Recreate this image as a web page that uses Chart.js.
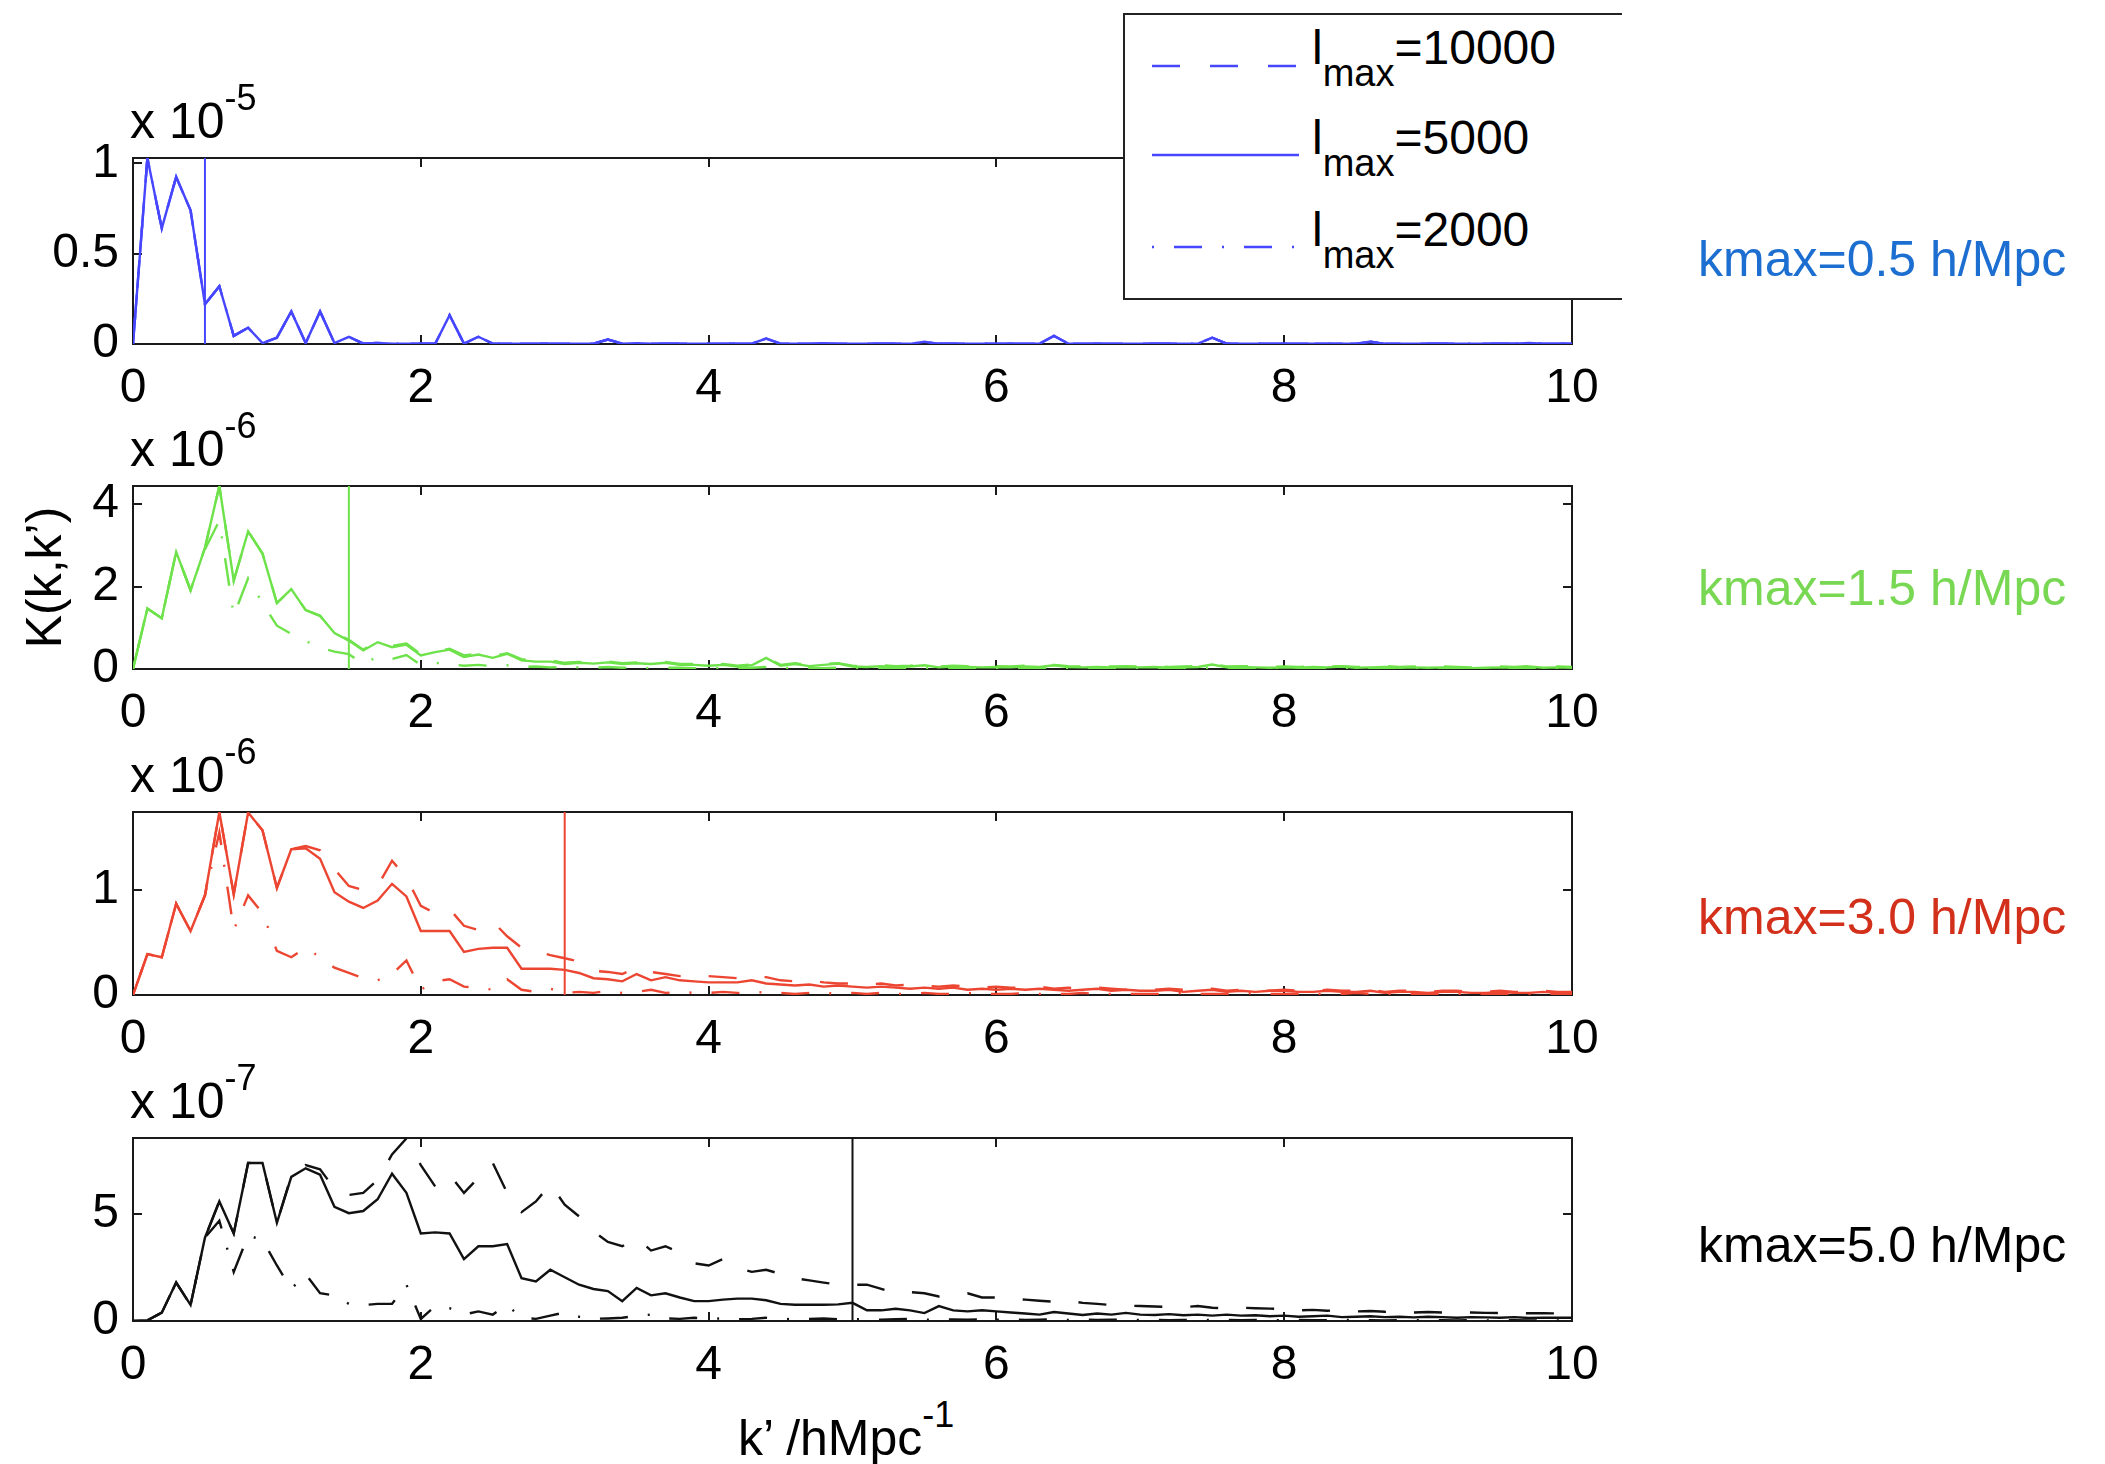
<!DOCTYPE html>
<html>
<head>
<meta charset="utf-8">
<script src="https://cdn.jsdelivr.net/npm/chart.js@4.4.1/dist/chart.umd.min.js"></script>
<style>
  body { margin: 0; background: #fff; width: 2105px; height: 1464px; position: relative; overflow: hidden;
         font-family: "Liberation Sans", Arial, Helvetica, sans-serif; color: #000; }
  canvas { position: absolute; left: 0; }
  .txt { position: absolute; white-space: nowrap; line-height: 50px; font-size: 50px; }
  .txt sup { font-size: 36px; position: relative; top: -28px; vertical-align: baseline; }
  .kmax { position: absolute; left: 1698px; font-size: 50px; line-height: 50px; white-space: nowrap; }
  #legend { position: absolute; left: 1123px; top: 13px; width: 497px; height: 283px; background: #fff;
            border-left: 2px solid #222; border-top: 2px solid #222; border-bottom: 2px solid #222; z-index: 5; }
  #legend svg { position: absolute; left: 0; top: 0; }
  .lrow { position: absolute; left: 187px; font-size: 48px; line-height: 48px; white-space: nowrap; }
  .lrow sub { font-size: 38px; position: relative; top: 22px; vertical-align: baseline; }
</style>
</head>
<body>

<div id="legend">
  <svg width="497" height="283">
    <line x1="27" y1="51" x2="174" y2="51" stroke="#4646ff" stroke-width="2.5" stroke-dasharray="28 30"/>
    <line x1="27" y1="140" x2="174" y2="140" stroke="#4646ff" stroke-width="2.5"/>
    <line x1="27" y1="232" x2="174" y2="232" stroke="#4646ff" stroke-width="2.5" stroke-dasharray="2 20 28 20"/>
  </svg>
  <div class="lrow" style="top:9px">l<sub>max</sub>=10000</div>
  <div class="lrow" style="top:99px">l<sub>max</sub>=5000</div>
  <div class="lrow" style="top:191px">l<sub>max</sub>=2000</div>
</div>

<div class="txt" style="left:738px; top:1413px;">k’ /hMpc<sup>-1</sup></div>

<script>
// k' grid (h/Mpc)
const kGrid = [
  0, 0.1, 0.2, 0.3, 0.4, 0.5, 0.6, 0.7, 0.8, 0.9,
  1, 1.1, 1.2, 1.3, 1.4, 1.5, 1.6, 1.7, 1.8, 1.9,
  2, 2.1, 2.2, 2.3, 2.4, 2.5, 2.6, 2.7, 2.8, 2.9,
  3, 3.1, 3.2, 3.3, 3.4, 3.5, 3.6, 3.7, 3.8, 3.9,
  4, 4.1, 4.2, 4.3, 4.4, 4.5, 4.6, 4.7, 4.8, 4.9,
  5, 5.1, 5.2, 5.3, 5.4, 5.5, 5.6, 5.7, 5.8, 5.9,
  6, 6.1, 6.2, 6.3, 6.4, 6.5, 6.6, 6.7, 6.8, 6.9,
  7, 7.1, 7.2, 7.3, 7.4, 7.5, 7.6, 7.7, 7.8, 7.9,
  8, 8.1, 8.2, 8.3, 8.4, 8.5, 8.6, 8.7, 8.8, 8.9,
  9, 9.1, 9.2, 9.3, 9.4, 9.5, 9.6, 9.7, 9.8, 9.9,
  10
];

const kmaxValues = [0.5, 1.5, 3.0, 5.0];
const kmaxLabels = ['kmax=0.5 h/Mpc', 'kmax=1.5 h/Mpc', 'kmax=3.0 h/Mpc', 'kmax=5.0 h/Mpc'];
const exponents = ['-5', '-6', '-6', '-7'];
const yMaxValues = [1.03, 4.44, 1.745, 8.57];
const yTickValues = [[0, 0.5, 1], [0, 2, 4], [0, 1], [0, 5]];
const xTickValues = [0, 2, 4, 6, 8, 10];
const seriesNames = ['lmax=10000', 'lmax=5000', 'lmax=2000'];

// kmax = 0.5 (x 1e-5) -- all three lmax curves coincide
const p1Solid = [
  0, 1.03, 0.64, 0.925, 0.74, 0.22, 0.32, 0.045, 0.09, 0.005,
  0.035, 0.18, 0.005, 0.18, 0.005, 0.04, 0.002, 0.006, 0.001, 0.001,
  0.001, 0.001, 0.16, 0.002, 0.04, 0.002, 0.001, 0.002, 0.001, 0.001,
  0.001, 0.001, 0.002, 0.025, 0.002, 0.004, 0.001, 0.001, 0.002, 0.001,
  0.001, 0.001, 0.001, 0.002, 0.03, 0.002, 0.001, 0.001, 0.003, 0.001,
  0.001, 0.001, 0.001, 0.002, 0.001, 0.012, 0.001, 0.001, 0.002, 0.001,
  0.001, 0.001, 0.001, 0.002, 0.045, 0.002, 0.001, 0.001, 0.001, 0.001,
  0.001, 0.002, 0.001, 0.001, 0.002, 0.035, 0.002, 0.001, 0.001, 0.001,
  0.001, 0.001, 0.001, 0.002, 0.001, 0.002, 0.012, 0.001, 0.001, 0.001,
  0.001, 0.001, 0.001, 0.002, 0.001, 0.001, 0.002, 0.006, 0.001, 0.001,
  0.001
];

// kmax = 1.5 (x 1e-6)
const p2Dashed = [
  0, 1.47, 1.23, 2.84, 1.91, 2.94, 4.44, 2.14, 3.34, 2.8,
  1.6, 1.94, 1.43, 1.29, 0.87, 0.71, 0.47, 0.67, 0.56, 0.62,
  0.36, 0.43, 0.49, 0.33, 0.37, 0.31, 0.38, 0.24, 0.2, 0.21,
  0.15, 0.17, 0.15, 0.18, 0.14, 0.16, 0.14, 0.17, 0.12, 0.12,
  0.1, 0.12, 0.08, 0.11, 0.28, 0.1, 0.14, 0.09, 0.12, 0.14,
  0.08, 0.07, 0.09, 0.07, 0.08, 0.1, 0.06, 0.08, 0.07, 0.06,
  0.07, 0.06, 0.08, 0.07, 0.1, 0.07, 0.06, 0.07, 0.06, 0.07,
  0.06, 0.07, 0.05, 0.06, 0.07, 0.12, 0.06, 0.07, 0.06, 0.05,
  0.06, 0.05, 0.07, 0.06, 0.07, 0.05, 0.06, 0.07, 0.05, 0.06,
  0.05, 0.06, 0.05, 0.04, 0.05, 0.06, 0.05, 0.07, 0.05, 0.06,
  0.05
];
const p2Solid = [
  0, 1.47, 1.23, 2.84, 1.91, 2.94, 4.44, 2.14, 3.34, 2.8,
  1.6, 1.94, 1.43, 1.29, 0.87, 0.69, 0.45, 0.65, 0.53, 0.59,
  0.33, 0.41, 0.47, 0.29, 0.35, 0.27, 0.37, 0.21, 0.18, 0.18,
  0.12, 0.15, 0.13, 0.16, 0.12, 0.14, 0.12, 0.15, 0.1, 0.1,
  0.08, 0.1, 0.06, 0.09, 0.27, 0.08, 0.12, 0.07, 0.1, 0.13,
  0.06, 0.05, 0.07, 0.05, 0.06, 0.09, 0.04, 0.06, 0.05, 0.04,
  0.05, 0.04, 0.06, 0.05, 0.09, 0.05, 0.04, 0.05, 0.04, 0.05,
  0.04, 0.05, 0.03, 0.04, 0.05, 0.11, 0.04, 0.05, 0.04, 0.03,
  0.04, 0.03, 0.05, 0.04, 0.06, 0.03, 0.04, 0.05, 0.03, 0.04,
  0.03, 0.04, 0.03, 0.02, 0.03, 0.04, 0.03, 0.06, 0.03, 0.04,
  0.03
];
const p2DashDot = [
  0, 1.47, 1.23, 2.84, 1.91, 2.9, 3.6, 1.3, 2.2, 1.6,
  1.05, 0.85, 0.68, 0.52, 0.42, 0.36, 0.12, 0.3, 0.24, 0.34,
  0.1, 0.15, 0.12, 0.08, 0.1, 0.07, 0.09, 0.05, 0.06, 0.04,
  0.05, 0.04, 0.03, 0.05, 0.03, 0.04, 0.02, 0.03, 0.03, 0.02,
  0.02, 0.03, 0.02, 0.03, 0.05, 0.02, 0.03, 0.02, 0.02, 0.03,
  0.02, 0.01, 0.02, 0.02, 0.01, 0.03, 0.01, 0.02, 0.01, 0.02,
  0.01, 0.02, 0.01, 0.01, 0.03, 0.01, 0.02, 0.01, 0.01, 0.02,
  0.01, 0.01, 0.02, 0.01, 0.01, 0.03, 0.01, 0.01, 0.02, 0.01,
  0.01, 0.01, 0.01, 0.02, 0.01, 0.01, 0.02, 0.01, 0.01, 0.01,
  0.01, 0.01, 0.02, 0.01, 0.01, 0.01, 0.01, 0.02, 0.01, 0.01,
  0.01
];

// kmax = 3.0 (x 1e-6)
const p3Dashed = [
  0, 0.39, 0.36, 0.87, 0.61, 0.95, 1.745, 0.96, 1.74, 1.57,
  1.02, 1.39, 1.42, 1.38, 1.2, 1.04, 1.0, 1.04, 1.28, 1.12,
  0.85, 0.78, 0.82, 0.66, 0.62, 0.7, 0.56, 0.45, 0.42, 0.38,
  0.35, 0.32, 0.23, 0.22, 0.2, 0.26, 0.22, 0.2, 0.18, 0.18,
  0.18, 0.17, 0.16, 0.17, 0.17, 0.14, 0.13, 0.14, 0.12, 0.11,
  0.11, 0.1, 0.11, 0.09, 0.1, 0.09, 0.08, 0.09, 0.08, 0.07,
  0.08, 0.07, 0.07, 0.08, 0.06, 0.07, 0.06, 0.07, 0.06, 0.05,
  0.06, 0.05, 0.06, 0.05, 0.05, 0.06, 0.04, 0.05, 0.05, 0.04,
  0.05, 0.04, 0.04, 0.05, 0.04, 0.04, 0.05, 0.03, 0.04, 0.04,
  0.03, 0.04, 0.04, 0.03, 0.03, 0.04, 0.03, 0.03, 0.04, 0.03,
  0.03
];
const p3Solid = [
  0, 0.39, 0.36, 0.87, 0.61, 0.95, 1.745, 0.96, 1.74, 1.57,
  1.02, 1.39, 1.4, 1.3, 0.98, 0.89, 0.83, 0.9, 1.06, 0.94,
  0.61, 0.61, 0.61, 0.41, 0.44, 0.45, 0.45, 0.25, 0.25, 0.25,
  0.24, 0.21, 0.16, 0.15, 0.13, 0.2, 0.14, 0.17, 0.14, 0.13,
  0.12, 0.12, 0.12, 0.14, 0.11, 0.1, 0.09, 0.1, 0.08, 0.09,
  0.08, 0.07, 0.08, 0.07, 0.06, 0.07, 0.06, 0.07, 0.05, 0.06,
  0.05, 0.06, 0.05, 0.06, 0.05, 0.04, 0.05, 0.06, 0.04, 0.05,
  0.04, 0.04, 0.05, 0.03, 0.04, 0.05, 0.03, 0.04, 0.03, 0.04,
  0.04, 0.03, 0.03, 0.04, 0.03, 0.03, 0.04, 0.02, 0.03, 0.03,
  0.02, 0.03, 0.03, 0.02, 0.02, 0.03, 0.02, 0.02, 0.03, 0.02,
  0.02
];
const p3DashDot = [
  0, 0.39, 0.36, 0.87, 0.61, 0.95, 1.55, 0.62, 0.95, 0.78,
  0.42, 0.36, 0.45, 0.36, 0.26, 0.21, 0.16, 0.14, 0.2, 0.33,
  0.05, 0.13, 0.15, 0.08, 0.07, 0.05, 0.15, 0.05, 0.03, 0.06,
  0.02, 0.03, 0.02, 0.04, 0.02, 0.03, 0.05, 0.02, 0.03, 0.02,
  0.02, 0.03, 0.02, 0.02, 0.03, 0.02, 0.01, 0.02, 0.02, 0.01,
  0.02, 0.01, 0.02, 0.01, 0.01, 0.02, 0.01, 0.01, 0.02, 0.01,
  0.01, 0.01, 0.02, 0.01, 0.01, 0.01, 0.02, 0.01, 0.01, 0.01,
  0.01, 0.01, 0.01, 0.02, 0.01, 0.01, 0.01, 0.01, 0.02, 0.01,
  0.01, 0.01, 0.01, 0.01, 0.01, 0.02, 0.01, 0.01, 0.01, 0.01,
  0.01, 0.01, 0.01, 0.01, 0.01, 0.01, 0.01, 0.01, 0.01, 0.01,
  0.01
];

// kmax = 5.0 (x 1e-7)
const p4Dashed = [
  0, 0.03, 0.39, 1.8, 0.75, 3.9, 5.6, 4.1, 7.4, 7.4,
  4.6, 6.8, 7.3, 7.1, 6.2, 5.9, 6.0, 6.6, 7.8, 8.55,
  7.3, 6.3, 6.85, 6.0, 6.7, 7.4, 6.0, 5.1, 5.6, 6.4,
  5.45, 4.9, 4.2, 3.7, 3.5, 3.9, 3.3, 3.5, 3.2, 2.7,
  2.6, 2.9, 2.5, 2.3, 2.4, 2.2, 2.0, 1.9, 1.8, 1.7,
  1.7, 1.7, 1.5, 1.3, 1.35, 1.3, 1.15, 1.25, 1.3, 1.1,
  1.1, 1.05, 1.0, 0.95, 0.9, 0.95, 0.85, 0.8, 0.75, 0.72,
  0.7, 0.68, 0.66, 0.65, 0.7, 0.62, 0.6, 0.62, 0.6, 0.58,
  0.55, 0.5, 0.52, 0.48, 0.5, 0.45, 0.47, 0.43, 0.42, 0.4,
  0.42, 0.4, 0.38, 0.4, 0.38, 0.37, 0.38, 0.36, 0.37, 0.35,
  0.35
];
const p4Solid = [
  0, 0.03, 0.39, 1.8, 0.75, 3.9, 5.6, 4.1, 7.4, 7.4,
  4.6, 6.75, 7.15, 6.85, 5.35, 5.05, 5.15, 5.7, 6.9, 6.0,
  4.1, 4.15, 4.1, 2.9, 3.5, 3.5, 3.6, 2.0, 1.85, 2.4,
  2.05, 1.7, 1.5, 1.4, 0.93, 1.55, 1.2, 1.3, 1.1, 0.93,
  0.93, 1.0, 1.05, 1.05, 0.97, 0.8, 0.76, 0.76, 0.76, 0.78,
  0.85, 0.5, 0.5, 0.57, 0.5, 0.37, 0.7, 0.5, 0.45, 0.5,
  0.45, 0.4, 0.35, 0.3, 0.42, 0.35, 0.28, 0.35, 0.3, 0.38,
  0.3, 0.28, 0.32, 0.27, 0.3, 0.25, 0.3, 0.25, 0.27, 0.22,
  0.25, 0.2, 0.22, 0.25, 0.18, 0.2, 0.22, 0.18, 0.2, 0.17,
  0.2, 0.18, 0.15, 0.18, 0.17, 0.15, 0.18, 0.14, 0.16, 0.15,
  0.15
];
const p4DashDot = [
  0, 0.03, 0.39, 1.8, 0.75, 3.9, 4.7, 2.3, 4.0, 3.8,
  2.6, 1.5, 2.2, 1.3, 1.2, 0.8, 0.75, 0.8, 0.8, 1.7,
  0.1, 0.7, 0.6, 0.3, 0.45, 0.3, 0.75, 0.15, 0.1, 0.25,
  0.4, 0.2, 0.1, 0.12, 0.15, 0.25, 0.3, 0.12, 0.1, 0.15,
  0.1, 0.12, 0.08, 0.1, 0.15, 0.1, 0.08, 0.1, 0.12, 0.08,
  0.08, 0.1, 0.06, 0.08, 0.1, 0.06, 0.08, 0.07, 0.06, 0.08,
  0.06, 0.07, 0.05, 0.06, 0.08, 0.05, 0.06, 0.05, 0.06, 0.05,
  0.05, 0.06, 0.04, 0.05, 0.06, 0.04, 0.05, 0.04, 0.05, 0.04,
  0.04, 0.05, 0.04, 0.04, 0.05, 0.04, 0.04, 0.03, 0.04, 0.04,
  0.03, 0.04, 0.03, 0.04, 0.03, 0.03, 0.04, 0.03, 0.03, 0.03,
  0.03
];

const panelSeries = [
  [p1Solid, p1Solid, p1Solid],
  [p2Dashed, p2Solid, p2DashDot],
  [p3Dashed, p3Solid, p3DashDot],
  [p4Dashed, p4Solid, p4DashDot]
];

// look
const lineColors = ['#4646ff', '#6ee24a', '#ec4632', '#111111'];
const textColors = ['#1c6fd0', '#79d853', '#d3301c', '#000000'];
const dashes = [[28, 28], [], [2, 20, 28, 20]];
const panelTops = [158, 486, 812, 1138];
const panelHeights = [186, 183, 183, 183];
const labelCenters = [259, 588, 917, 1245];
const FONT = '"Liberation Sans", Arial, Helvetica, sans-serif';
const PAD_TOP = 50, XAXIS_H = 80, YAXIS_W = 133, CANVAS_W = 1616, PAD_RIGHT = 44, TICK = 9;

// box + inward ticks, matlab style
const boxPlugin = {
  id: 'matlabBox',
  beforeDatasetsDraw(chart) {
    const { ctx, chartArea: a, scales } = chart;
    ctx.save();
    ctx.strokeStyle = '#1a1a1a';
    ctx.lineWidth = 2;
    ctx.strokeRect(a.left, a.top, a.right - a.left, a.bottom - a.top);
    ctx.beginPath();
    scales.x.ticks.forEach(t => {
      const px = Math.round(scales.x.getPixelForValue(t.value));
      ctx.moveTo(px, a.bottom); ctx.lineTo(px, a.bottom - TICK);
      ctx.moveTo(px, a.top); ctx.lineTo(px, a.top + TICK);
    });
    scales.y.ticks.forEach(t => {
      const py = Math.round(scales.y.getPixelForValue(t.value));
      ctx.moveTo(a.left, py); ctx.lineTo(a.left + TICK, py);
      ctx.moveTo(a.right, py); ctx.lineTo(a.right - TICK, py);
    });
    ctx.stroke();
    ctx.restore();
  }
};

function toPoints(values) {
  return kGrid.map((k, i) => ({ x: k, y: values[i] }));
}

function makePanel(i) {
  const cv = document.createElement('canvas');
  cv.width = CANVAS_W;
  cv.height = panelHeights[i] + PAD_TOP + XAXIS_H;
  cv.style.top = (panelTops[i] - PAD_TOP) + 'px';
  document.body.appendChild(cv);

  const datasets = panelSeries[i].map((vals, s) => ({
    label: seriesNames[s],
    data: toPoints(vals),
    borderColor: lineColors[i],
    borderWidth: 2.4,
    borderDash: dashes[s],
    pointRadius: 0,
    tension: 0,
    fill: false
  }));
  datasets.push({
    label: kmaxLabels[i],
    data: [{ x: kmaxValues[i], y: 0 }, { x: kmaxValues[i], y: yMaxValues[i] }],
    borderColor: lineColors[i],
    borderWidth: 2,
    pointRadius: 0
  });

  new Chart(cv, {
    type: 'line',
    data: { datasets },
    options: {
      responsive: false,
      animation: false,
      devicePixelRatio: 1,
      layout: { padding: { top: PAD_TOP, right: PAD_RIGHT, left: 0, bottom: 0 } },
      plugins: { legend: { display: false }, tooltip: { enabled: false } },
      scales: {
        x: {
          type: 'linear', min: 0, max: 10,
          afterBuildTicks: s => { s.ticks = xTickValues.map(v => ({ value: v })); },
          afterFit: s => { s.height = XAXIS_H; },
          grid: { display: false, drawTicks: false },
          border: { display: false },
          ticks: { color: '#000', font: { family: FONT, size: 48 }, padding: 16, maxRotation: 0, autoSkip: false,
                   callback: v => String(v) }
        },
        y: {
          type: 'linear', min: 0, max: yMaxValues[i],
          afterBuildTicks: s => { s.ticks = yTickValues[i].map(v => ({ value: v })); },
          afterFit: s => { s.width = YAXIS_W; },
          grid: { display: false, drawTicks: false },
          border: { display: false },
          ticks: { color: '#000', font: { family: FONT, size: 48 }, padding: 14, callback: v => String(v) },
          title: { display: i === 1, text: 'K(k,k’)', color: '#000', font: { family: FONT, size: 50 },
                   padding: { top: 17, bottom: 0 } }
        }
      }
    },
    plugins: [boxPlugin]
  });

  // "x 10^n" multiplier above the box
  const ex = document.createElement('div');
  ex.className = 'txt';
  ex.style.left = '130px';
  ex.style.top = (panelTops[i] - 20 - 42) + 'px';
  ex.innerHTML = 'x 10<sup>' + exponents[i] + '</sup>';
  document.body.appendChild(ex);

  // kmax label on the right
  const lab = document.createElement('div');
  lab.className = 'kmax';
  lab.style.color = textColors[i];
  lab.style.top = (labelCenters[i] - 25) + 'px';
  lab.textContent = kmaxLabels[i];
  document.body.appendChild(lab);
}

[0, 1, 2, 3].forEach(makePanel);
</script>
</body>
</html>
